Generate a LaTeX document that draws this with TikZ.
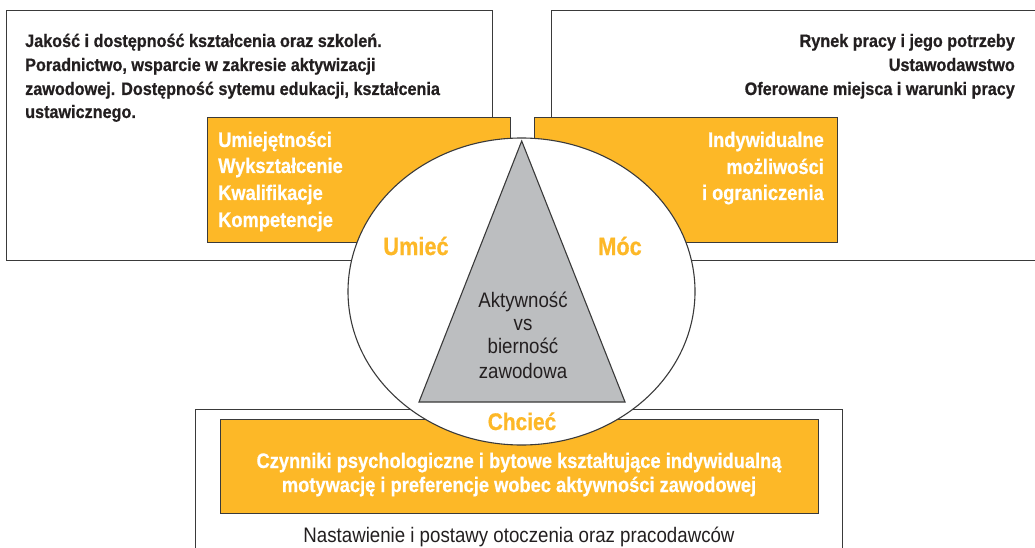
\documentclass[tikz,border=0pt]{standalone}
\usepackage{fontspec}
\setmainfont{Liberation Sans}
\newfontfamily\condb{Liberation Sans}[FakeStretch=0.87,FakeBold=0.6]
\newfontfamily\conddk{Liberation Sans}[FakeStretch=0.9,FakeBold=0.6]
\newfontfamily\condr{Liberation Sans}[FakeStretch=0.89]
\usetikzlibrary{shapes.geometric}
\definecolor{orng}{HTML}{FDB827}
\definecolor{tri}{HTML}{BCBEC0}
\definecolor{txt}{HTML}{231F20}
\definecolor{edge}{HTML}{3A3A3A}
\tikzset{
  outerbox/.style={draw=edge, line width=1.1pt, fill=white, inner sep=0pt, anchor=north west},
  orangebox/.style={draw=edge, line width=1.1pt, fill=orng, inner sep=0pt, anchor=north west},
  darkb/.style={inner sep=0pt, text=txt, font=\conddk\bfseries\fontsize{18}{24}\selectfont},
  whiteb/.style={inner sep=0pt, text=white, font=\condb\bfseries\fontsize{21}{26}\selectfont},
  orangelabel/.style={inner sep=0pt, text=orng, font=\condb\bfseries\fontsize{25}{30}\selectfont, anchor=base},
  plain/.style={inner sep=0pt, text=txt, font=\condr\fontsize{21}{26}\selectfont, anchor=base}
}
\begin{document}
\begin{tikzpicture}[x=1pt,y=-1pt]
\useasboundingbox (0,0) rectangle (1035,548);
\clip (0,0) rectangle (1035,548);
% outer boxes
\node[outerbox, minimum width=486pt, minimum height=250pt] (tlbox) at (6,10) {};
\node[outerbox, minimum width=500pt, minimum height=250pt] (trbox) at (551,10) {};
\node[outerbox, minimum width=647pt, minimum height=150pt] (bbox) at (195,409) {};
% orange boxes
\node[orangebox, minimum width=303pt, minimum height=125pt] (obl) at (207,117) {};
\node[orangebox, minimum width=303pt, minimum height=125pt] (obr) at (534,117) {};
\node[orangebox, minimum width=598pt, minimum height=94pt] (obb) at (220,419) {};
% ellipse
\node[ellipse, draw=edge, line width=1.1pt, fill=white, minimum width=347pt, minimum height=307pt, inner sep=0pt] (ell) at (521.5,291.5) {};
% triangle
\coordinate (apex) at (521.7,141);
\coordinate (bl) at (419,402);
\coordinate (br) at (625,402);
\draw[draw=edge, line width=1.1pt, fill=tri, line join=miter] (apex) -- (bl) -- (br) -- cycle;
% top-left text
\node[darkb, anchor=base west] (tl1) at (25,47) {Jakość i dostępność kształcenia oraz szkoleń.};
\node[darkb, anchor=base west] (tl2) at (25,71) {Poradnictwo, wsparcie w zakresie aktywizacji};
\node[darkb, anchor=base west] (tl3) at (25,95) {zawodowej. Dostępność sytemu edukacji, kształcenia};
\node[darkb, anchor=base west] (tl4) at (25,118) {ustawicznego.};
% top-right text
\node[darkb, anchor=base east] (tr1) at (1015,47) {Rynek pracy i jego potrzeby};
\node[darkb, anchor=base east] (tr2) at (1015,71) {Ustawodawstwo};
\node[darkb, anchor=base east] (tr3) at (1015,95) {Oferowane miejsca i warunki pracy};
% orange left text
\node[whiteb, anchor=base west] (ol1) at (218,147) {Umiejętności};
\node[whiteb, anchor=base west] (ol2) at (218,173) {Wykształcenie};
\node[whiteb, anchor=base west] (ol3) at (218,200) {Kwalifikacje};
\node[whiteb, anchor=base west] (ol4) at (218,227) {Kompetencje};
% orange right text
\node[whiteb, anchor=base east] (or1) at (824,147) {Indywidualne};
\node[whiteb, anchor=base east] (or2) at (824,174) {możliwości};
\node[whiteb, anchor=base east] (or3) at (824,200) {i ograniczenia};
% labels
\node[orangelabel] (umiec) at (416,255) {Umieć};
\node[orangelabel] (moc) at (620,255) {Móc};
\node[orangelabel, font=\condb\bfseries\fontsize{24}{28}\selectfont] (chciec) at (522,430) {Chcieć};
% triangle text
\node[plain] (a1) at (523,307) {Aktywność};
\node[plain] (a2) at (523,330) {vs};
\node[plain] (a3) at (523,353) {bierność};
\node[plain] (a4) at (523,378) {zawodowa};
% bottom orange text
\node[whiteb, anchor=base] (ob1) at (519,468) {Czynniki psychologiczne i bytowe kształtujące indywidualną};
\node[whiteb, anchor=base] (ob2) at (519,492) {motywację i preferencje wobec aktywności zawodowej};
% bottom text
\node[plain] (bt) at (519,542) {Nastawienie i postawy otoczenia oraz pracodawców};
\end{tikzpicture}
\end{document}
